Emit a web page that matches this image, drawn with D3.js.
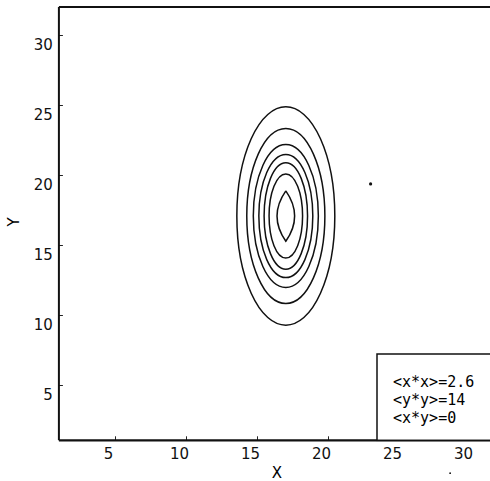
<!DOCTYPE html>
<html>
<head>
<meta charset="utf-8">
<script src="https://cdn.jsdelivr.net/npm/d3@7"></script>
<style>
  body { margin: 0; background: #fff; }
  svg { display: block; }
  .tick text { font-family: "DejaVu Sans", sans-serif; font-size: 15px; fill: #111; }
</style>
</head>
<body>
<div id="chart"></div>
<script>
// ticks
const xTicks = [5, 10, 15, 20, 25, 30]
const yTicks = [5, 10, 15, 20, 25, 30]

// contour rings (data units), outer to inner
const center = [17.03, 17.07]
const ringRx = [3.45, 2.75, 2.29, 1.9, 1.53, 1.18]
const ringRy = [7.8, 6.25, 5.1, 4.4, 3.8, 3.0]
// innermost lens-shaped contour
const innerRx = 0.62
const innerRy = 1.8

// stray dots
const dotX = [23.0, 28.6]
const dotY = [19.36, -1.3]
const dotR = [1.6, 0.9]

const legendLines = ["<x*x>=2.6", "<y*y>=14", "<x*y>=0"]

const width = 490
const height = 481

const svg = d3.select('#chart')
    .append('svg')
    .attr('width', width)
    .attr('height', height)

const x = d3.scaleLinear().domain([0, 30]).range([44, 470])
const y = d3.scaleLinear().domain([0, 30]).range([455, 35])

const xMin = 1.05, yMin = 1.05, yMax = 32, xMax = 32

// x axis ticks (inward)
const gx = svg.append('g')
    .attr('transform', `translate(0,${y(yMin)})`)
    .call(d3.axisBottom(x).tickValues(xTicks).tickSize(-4).tickSizeOuter(0))
gx.select('.domain').remove()
gx.selectAll('.tick line').attr('stroke', '#222')
gx.selectAll('.tick text').attr('x', -7).attr('y', 19).attr('dy', 0)

// y axis ticks (inward)
const gy = svg.append('g')
    .attr('transform', `translate(${x(xMin)},0)`)
    .call(d3.axisLeft(y).tickValues(yTicks).tickSize(-4).tickSizeOuter(0))
gy.select('.domain').remove()
gy.selectAll('.tick line').attr('stroke', '#222')
gy.selectAll('.tick text').attr('x', -6).attr('y', 14).attr('dy', 0)

// frame
const frame = svg.append('g').attr('stroke', '#111').attr('fill', 'none')
frame.append('line')
    .attr('x1', x(xMin)).attr('x2', x(xMin))
    .attr('y1', y(yMax)).attr('y2', y(yMin))
    .attr('stroke-width', 2)
frame.append('line')
    .attr('x1', x(xMin)).attr('x2', x(xMax))
    .attr('y1', y(yMin)).attr('y2', y(yMin))
    .attr('stroke-width', 2.2)
frame.append('line')
    .attr('x1', x(xMin)).attr('x2', x(xMax))
    .attr('y1', y(yMax)).attr('y2', y(yMax))
    .attr('stroke-width', 1.8)

// contours
svg.append('g')
    .selectAll('ellipse')
    .data(ringRx)
    .join('ellipse')
    .attr('cx', x(center[0]))
    .attr('cy', y(center[1]))
    .attr('rx', d => x(center[0] + d) - x(center[0]))
    .attr('ry', (d, i) => y(center[1]) - y(center[1] + ringRy[i]))
    .attr('fill', 'none')
    .attr('stroke', '#111')
    .attr('stroke-width', 1.5)

const lens = d3.path()
lens.moveTo(x(center[0]), y(center[1] + innerRy))
lens.quadraticCurveTo(x(center[0] + 2 * innerRx), y(center[1]), x(center[0]), y(center[1] - innerRy))
lens.quadraticCurveTo(x(center[0] - 2 * innerRx), y(center[1]), x(center[0]), y(center[1] + innerRy))
svg.append('path')
    .attr('d', lens.toString())
    .attr('fill', 'none')
    .attr('stroke', '#111')
    .attr('stroke-width', 1.5)

// dots
svg.append('g')
    .selectAll('circle')
    .data(dotX)
    .join('circle')
    .attr('cx', d => x(d))
    .attr('cy', (d, i) => y(dotY[i]))
    .attr('r', (d, i) => dotR[i])
    .attr('fill', '#111')

// axis labels
svg.append('text')
    .attr('x', 277).attr('y', 478)
    .attr('text-anchor', 'middle')
    .style('font-family', '"DejaVu Sans", sans-serif')
    .style('font-size', '15px')
    .text('X')
svg.append('text')
    .attr('transform', 'translate(19,222) rotate(-90)')
    .attr('text-anchor', 'middle')
    .style('font-family', '"DejaVu Sans", sans-serif')
    .style('font-size', '15px')
    .text('Y')

// legend box
svg.append('rect')
    .attr('x', 377).attr('y', 354)
    .attr('width', 130).attr('height', y(yMin) - 354)
    .attr('fill', '#fff')
    .attr('stroke', '#111')
    .attr('stroke-width', 1.5)

svg.append('g')
    .selectAll('text')
    .data(legendLines)
    .join('text')
    .attr('x', 393)
    .attr('y', (d, i) => 387 + i * 18)
    .style('font-family', '"DejaVu Sans Mono", monospace')
    .style('font-size', '15px')
    .attr('fill', '#000')
    .text(d => d)
</script>
</body>
</html>
